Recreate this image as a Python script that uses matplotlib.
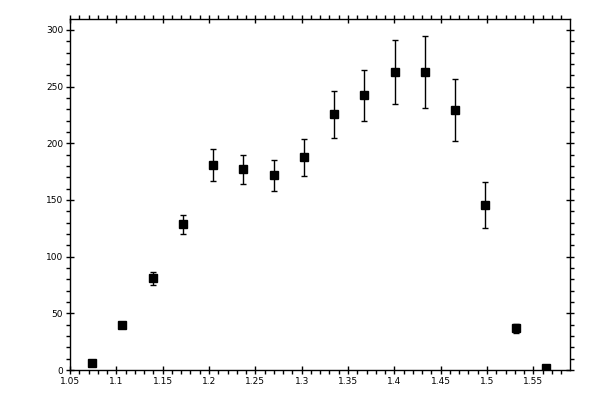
import matplotlib
matplotlib.use("Agg")
import matplotlib.pyplot as plt
import numpy as np
from matplotlib.ticker import MultipleLocator, FuncFormatter

# values
x_vals = [1.074, 1.1065, 1.140, 1.1723, 1.2047, 1.237, 1.2705, 1.303,
          1.3352, 1.3676, 1.401, 1.4334, 1.4658, 1.4982, 1.5313, 1.5637]
y_vals = [5.9, 39.4, 80.9, 128.5, 180.6, 177.1, 171.8, 187.7,
          225.6, 242.4, 262.6, 262.6, 229.1, 145.3, 36.8, 2.0]
y_err = [0.0, 0.0, 5.8, 8.5, 14.1, 12.9, 13.7, 16.3,
         20.7, 22.5, 28.2, 31.7, 27.4, 20.3, 4.0, 0.0]

x_ticks = [1.05, 1.1, 1.15, 1.2, 1.25, 1.3, 1.35, 1.4, 1.45, 1.5, 1.55]
y_ticks = [0, 50, 100, 150, 200, 250, 300]

fig = plt.figure(figsize=(6, 4), dpi=100)
ax = fig.add_axes([70/600, 30/400, 500/600, 351/400])

ax.errorbar(x_vals, y_vals, yerr=y_err, fmt='s', color='black',
            markersize=5.6, ecolor='black',
            elinewidth=1.0, capsize=2.2, capthick=1.0)

ax.set_xlim(1.05, 1.5896)
ax.set_ylim(0, 309.7)
ax.set_xticks(x_ticks)
ax.set_yticks(y_ticks)
ax.xaxis.set_minor_locator(MultipleLocator(0.01))
ax.yaxis.set_minor_locator(MultipleLocator(10))
ax.xaxis.set_major_formatter(FuncFormatter(lambda v, p: '%g' % round(v, 2)))
ax.yaxis.set_major_formatter(FuncFormatter(lambda v, p: '%d' % v))

ax.tick_params(which='major', direction='inout', length=6, width=1.0,
               top=True, right=True, labelsize=6.5, pad=2)
ax.tick_params(which='minor', direction='out', length=3, width=1.0,
               top=True, right=True)
for s in ax.spines.values():
    s.set_linewidth(1.0)

fig.savefig('out.png', dpi=100)
